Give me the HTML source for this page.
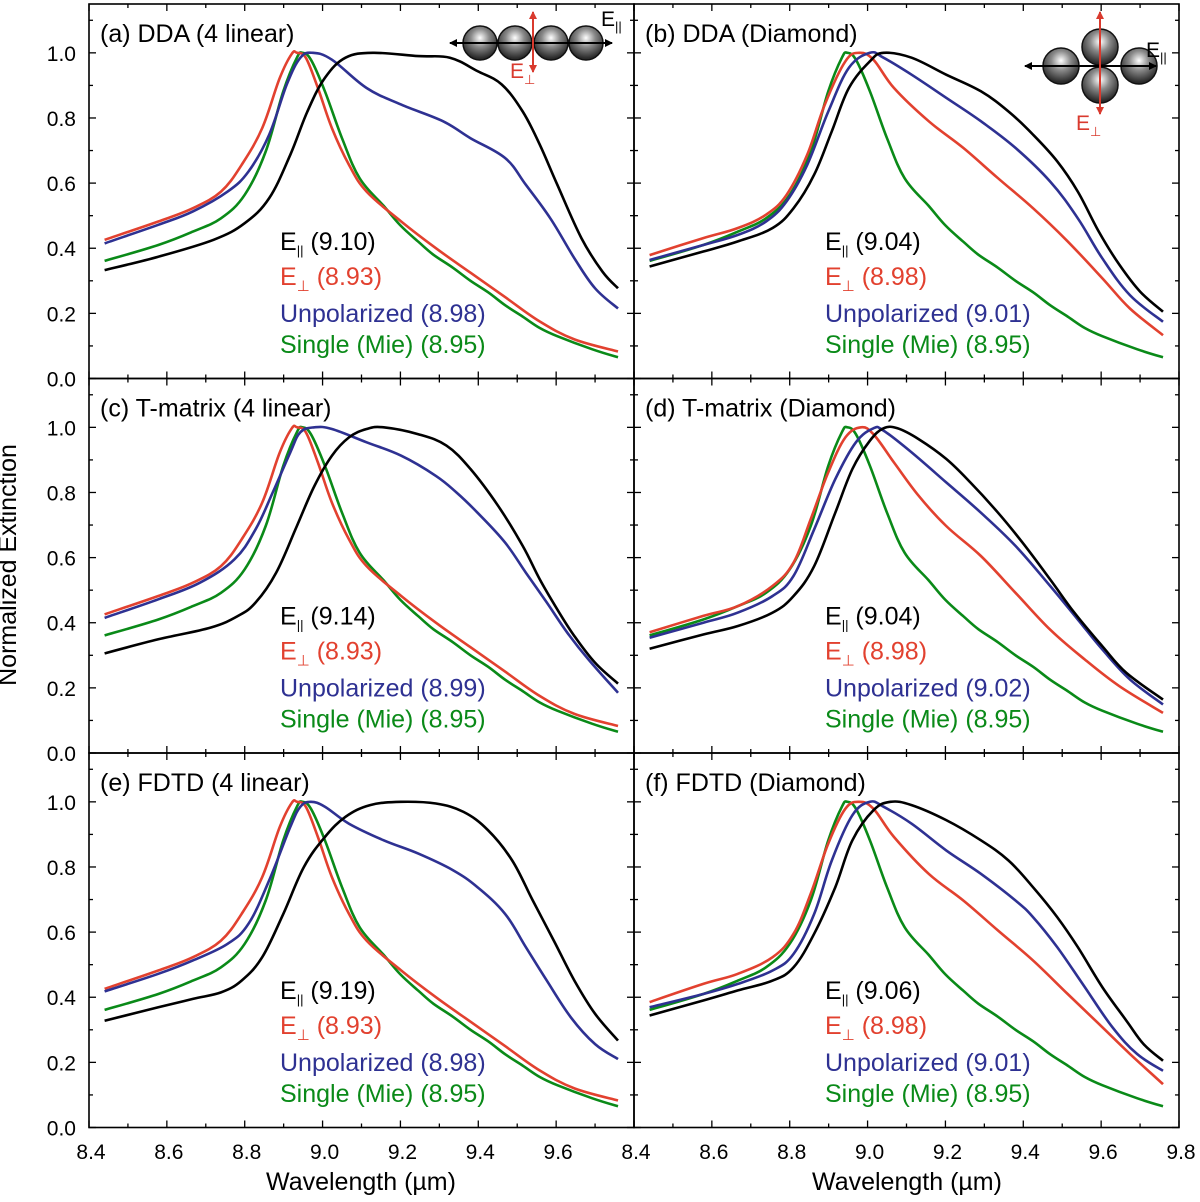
<!DOCTYPE html>
<html><head><meta charset="utf-8"><style>
body{margin:0;background:#fff}
svg text{font-family:"Liberation Sans",sans-serif}
</style></head><body>
<svg id="fig" width="1200" height="1197" viewBox="0 0 1200 1197" xmlns="http://www.w3.org/2000/svg">
<defs>
<radialGradient id="sph" cx="0.5" cy="0.35" r="0.6">
<stop offset="0" stop-color="#ffffff"/><stop offset="0.45" stop-color="#8a8a8a"/><stop offset="1" stop-color="#2a2a2a"/>
</radialGradient>
<marker id="ab" markerWidth="8" markerHeight="8" refX="7" refY="4" orient="auto" markerUnits="userSpaceOnUse"><path d="M0,0 L8,4 L0,8 z" fill="#000"/></marker>
<marker id="ar" markerWidth="8" markerHeight="8" refX="7" refY="4" orient="auto" markerUnits="userSpaceOnUse"><path d="M0,0 L8,4 L0,8 z" fill="#d93a2e"/></marker>
</defs>
<g id="plots"></g>
<text x="16" y="565" font-size="25" text-anchor="middle" transform="rotate(-90 16 565)">Normalized Extinction</text>
<text x="361" y="1190" font-size="25" text-anchor="middle">Wavelength (µm)</text>
<text x="907" y="1190" font-size="25" text-anchor="middle">Wavelength (µm)</text>
<g>
<circle cx="480" cy="43" r="17" fill="url(#sph)" stroke="#111" stroke-width="1.5"/>
<circle cx="515" cy="43" r="17" fill="url(#sph)" stroke="#111" stroke-width="1.5"/>
<circle cx="551" cy="43" r="17" fill="url(#sph)" stroke="#111" stroke-width="1.5"/>
<circle cx="586" cy="43" r="17" fill="url(#sph)" stroke="#111" stroke-width="1.5"/>
<line x1="452" y1="43" x2="612" y2="43" stroke="#000" stroke-width="2" marker-end="url(#ab)"/>
<line x1="612" y1="43" x2="450" y2="43" stroke="#000" stroke-width="2" marker-end="url(#ab)"/>
<line x1="533" y1="70" x2="533" y2="12" stroke="#d93a2e" stroke-width="2" marker-end="url(#ar)"/>
<line x1="533" y1="14" x2="533" y2="72" stroke="#d93a2e" stroke-width="2" marker-end="url(#ar)"/>
<text x="601" y="26" font-size="21">E<tspan font-size="13" dy="5">||</tspan></text>
<text x="510" y="78" font-size="21" fill="#d93a2e">E<tspan font-size="13" dy="6">⊥</tspan></text>
</g>
<g>
<circle cx="1061" cy="66" r="18" fill="url(#sph)" stroke="#111" stroke-width="1.5"/>
<circle cx="1139" cy="66" r="18" fill="url(#sph)" stroke="#111" stroke-width="1.5"/>
<circle cx="1100" cy="47" r="18" fill="url(#sph)" stroke="#111" stroke-width="1.5"/>
<circle cx="1100" cy="85" r="18" fill="url(#sph)" stroke="#111" stroke-width="1.5"/>
<line x1="1028" y1="66" x2="1156" y2="66" stroke="#000" stroke-width="2" marker-end="url(#ab)"/>
<line x1="1156" y1="66" x2="1025" y2="66" stroke="#000" stroke-width="2" marker-end="url(#ab)"/>
<line x1="1100" y1="112" x2="1100" y2="12" stroke="#d93a2e" stroke-width="2" marker-end="url(#ar)"/>
<line x1="1100" y1="14" x2="1100" y2="114" stroke="#d93a2e" stroke-width="2" marker-end="url(#ar)"/>
<text x="1146" y="57" font-size="21">E<tspan font-size="13" dy="5">||</tspan></text>
<text x="1076" y="130" font-size="21" fill="#d93a2e">E<tspan font-size="13" dy="6">⊥</tspan></text>
</g>
</svg>
<script>
const xTicks=[8.4,8.6,8.8,9.0,9.2,9.4,9.6,9.8];
const yTicks=[0.0,0.2,0.4,0.6,0.8,1.0];
const panelTitles=["(a) DDA (4 linear)","(b) DDA (Diamond)","(c) T-matrix (4 linear)","(d) T-matrix (Diamond)","(e) FDTD (4 linear)","(f) FDTD (Diamond)"];
const peakPar=["9.10","9.04","9.14","9.04","9.19","9.06"];
const peakPerp=["8.93","8.98","8.93","8.98","8.93","8.98"];
const peakUnp=["8.98","9.01","8.99","9.02","8.98","9.01"];
const peakMie="8.95";
// Mie single sphere (shared)
const mieW=[8.44,8.578,8.667,8.739,8.80,8.854,8.899,8.934,8.948,8.97,9.006,9.05,9.095,9.157,9.2,9.246,9.285,9.335,9.38,9.425,9.469,9.514,9.558,9.603,9.692,9.759];
const mieV=[0.361,0.41,0.451,0.492,0.564,0.697,0.882,0.985,1.0,0.979,0.882,0.738,0.615,0.53,0.47,0.42,0.38,0.34,0.30,0.265,0.225,0.19,0.155,0.13,0.09,0.065];
// Panel a
const aParW=[8.44,8.578,8.72,8.80,8.863,8.917,8.961,9.006,9.059,9.13,9.246,9.327,9.398,9.46,9.514,9.558,9.603,9.665,9.719,9.759];
const aParV=[0.333,0.374,0.426,0.477,0.554,0.687,0.82,0.923,0.985,1.0,0.99,0.985,0.944,0.903,0.82,0.718,0.595,0.431,0.328,0.277];
const aUnpW=[8.44,8.578,8.667,8.756,8.81,8.863,8.908,8.943,8.975,9.024,9.113,9.202,9.309,9.38,9.469,9.522,9.585,9.647,9.70,9.759];
const aUnpV=[0.415,0.472,0.513,0.574,0.636,0.749,0.903,0.985,1.0,0.979,0.892,0.841,0.79,0.738,0.677,0.595,0.492,0.369,0.277,0.215];
const linPerpW=[8.44,8.578,8.667,8.739,8.792,8.845,8.89,8.921,8.934,8.957,8.988,9.024,9.068,9.113,9.202,9.291,9.38,9.469,9.558,9.647,9.759];
const linPerpV=[0.426,0.482,0.523,0.574,0.656,0.769,0.923,0.997,1.0,0.985,0.892,0.769,0.656,0.574,0.482,0.40,0.325,0.25,0.175,0.12,0.083];
// Panel b
const bParW=[8.44,8.578,8.667,8.756,8.81,8.863,8.908,8.952,9.006,9.041,9.113,9.202,9.291,9.362,9.425,9.487,9.54,9.594,9.647,9.70,9.759];
const bParV=[0.344,0.39,0.421,0.462,0.523,0.626,0.759,0.892,0.974,1.0,0.985,0.933,0.882,0.82,0.749,0.667,0.574,0.451,0.349,0.267,0.205];
const bUnpW=[8.44,8.578,8.667,8.739,8.792,8.845,8.899,8.952,9.006,9.041,9.113,9.202,9.291,9.38,9.469,9.54,9.603,9.674,9.759];
const bUnpV=[0.364,0.41,0.441,0.482,0.544,0.656,0.82,0.954,1.0,0.985,0.933,0.862,0.79,0.708,0.605,0.492,0.369,0.256,0.174];
const bPerpW=[8.44,8.578,8.667,8.739,8.792,8.845,8.89,8.943,8.979,9.015,9.068,9.157,9.246,9.335,9.425,9.514,9.603,9.674,9.759];
const bPerpV=[0.379,0.431,0.462,0.503,0.564,0.687,0.841,0.974,1.0,0.979,0.892,0.79,0.708,0.615,0.523,0.421,0.308,0.215,0.133];
// Panel c
const cParW=[8.44,8.578,8.712,8.783,8.828,8.881,8.934,8.979,9.024,9.068,9.113,9.157,9.246,9.318,9.38,9.451,9.514,9.558,9.603,9.647,9.70,9.759];
const cParV=[0.306,0.349,0.385,0.421,0.462,0.554,0.697,0.82,0.913,0.969,0.995,1.0,0.979,0.944,0.872,0.759,0.636,0.533,0.441,0.359,0.277,0.213];
const cUnpW=[8.44,8.578,8.685,8.774,8.828,8.872,8.917,8.943,8.979,9.024,9.113,9.202,9.291,9.344,9.398,9.469,9.522,9.576,9.629,9.683,9.759];
const cUnpV=[0.415,0.472,0.523,0.595,0.687,0.80,0.923,0.985,1.0,0.995,0.954,0.913,0.851,0.80,0.738,0.646,0.554,0.462,0.369,0.287,0.185];
// Panel d
const dParW=[8.44,8.578,8.667,8.756,8.81,8.863,8.917,8.961,9.006,9.041,9.077,9.131,9.202,9.264,9.335,9.398,9.469,9.531,9.603,9.665,9.759];
const dParV=[0.32,0.364,0.39,0.431,0.482,0.574,0.738,0.872,0.959,0.997,0.997,0.964,0.903,0.831,0.738,0.646,0.533,0.431,0.328,0.246,0.164];
const dUnpW=[8.44,8.578,8.667,8.756,8.81,8.863,8.917,8.97,9.015,9.041,9.113,9.202,9.291,9.38,9.469,9.54,9.603,9.674,9.759];
const dUnpV=[0.354,0.40,0.431,0.482,0.544,0.687,0.841,0.954,0.997,0.99,0.923,0.831,0.738,0.636,0.513,0.41,0.318,0.226,0.149];
const dPerpW=[8.44,8.578,8.667,8.756,8.81,8.854,8.899,8.943,8.983,9.015,9.068,9.131,9.202,9.291,9.38,9.469,9.558,9.647,9.759];
const dPerpV=[0.371,0.421,0.451,0.513,0.585,0.718,0.862,0.969,1.0,0.979,0.892,0.79,0.697,0.605,0.492,0.379,0.287,0.205,0.123];
// Panel e
const eParW=[8.44,8.578,8.667,8.739,8.792,8.845,8.899,8.952,9.006,9.059,9.122,9.202,9.291,9.362,9.425,9.487,9.54,9.594,9.647,9.70,9.759];
const eParV=[0.328,0.369,0.395,0.415,0.451,0.523,0.656,0.80,0.892,0.954,0.99,1.0,0.995,0.969,0.913,0.82,0.697,0.574,0.451,0.349,0.267];
const eUnpW=[8.44,8.578,8.667,8.756,8.81,8.863,8.917,8.943,8.97,9.006,9.068,9.157,9.246,9.335,9.398,9.469,9.522,9.576,9.638,9.70,9.759];
const eUnpV=[0.418,0.472,0.513,0.564,0.626,0.759,0.923,0.985,1.0,0.985,0.933,0.882,0.841,0.79,0.738,0.656,0.554,0.451,0.338,0.256,0.21];
// Panel f
const fParW=[8.44,8.578,8.667,8.756,8.81,8.863,8.917,8.961,9.015,9.059,9.113,9.202,9.291,9.362,9.425,9.487,9.54,9.603,9.665,9.709,9.759];
const fParV=[0.344,0.39,0.421,0.451,0.492,0.595,0.738,0.882,0.974,1.0,0.99,0.944,0.882,0.82,0.738,0.646,0.554,0.431,0.328,0.256,0.205];
const fUnpW=[8.44,8.578,8.667,8.756,8.81,8.863,8.908,8.961,9.006,9.041,9.113,9.202,9.291,9.38,9.425,9.487,9.558,9.629,9.692,9.759];
const fUnpV=[0.369,0.41,0.441,0.482,0.533,0.656,0.82,0.959,1.0,0.985,0.933,0.851,0.779,0.697,0.646,0.554,0.431,0.308,0.226,0.174];
const fPerpW=[8.44,8.578,8.667,8.756,8.81,8.854,8.899,8.943,8.979,9.015,9.068,9.157,9.246,9.335,9.425,9.514,9.603,9.674,9.759];
const fPerpV=[0.385,0.441,0.472,0.523,0.595,0.718,0.872,0.979,1.0,0.979,0.892,0.779,0.697,0.605,0.513,0.41,0.308,0.226,0.133];

const panelPar=[[aParW,aParV],[bParW,bParV],[cParW,cParV],[dParW,dParV],[eParW,eParV],[fParW,fParV]];
const panelUnp=[[aUnpW,aUnpV],[bUnpW,bUnpV],[cUnpW,cUnpV],[dUnpW,dUnpV],[eUnpW,eUnpV],[fUnpW,fUnpV]];
const panelPerp=[[linPerpW,linPerpV],[bPerpW,bPerpV],[linPerpW,linPerpV],[dPerpW,dPerpV],[linPerpW,linPerpV],[fPerpW,fPerpV]];

const NS="http://www.w3.org/2000/svg";
const root=document.getElementById('plots');
const X0=[89,634], PW=545, Y0=[4,378.5,753], PH=374.5, YMAX=1.15;
const C={par:"#000000",perp:"#e2412f",unp:"#2e3192",mie:"#0a8a18"};
function mk(tag,attrs,parent){const e=document.createElementNS(NS,tag);for(const k in attrs)e.setAttribute(k,attrs[k]);(parent||root).appendChild(e);return e;}
function path(pts){let d="M"+pts[0][0].toFixed(1)+","+pts[0][1].toFixed(1);
 for(let i=0;i<pts.length-1;i++){const p0=pts[Math.max(0,i-1)],p1=pts[i],p2=pts[i+1],p3=pts[Math.min(pts.length-1,i+2)];const t=0.18;
 const c1=[p1[0]+(p2[0]-p0[0])*t,p1[1]+(p2[1]-p0[1])*t],c2=[p2[0]-(p3[0]-p1[0])*t,p2[1]-(p3[1]-p1[1])*t];
 d+=" C"+c1[0].toFixed(1)+","+c1[1].toFixed(1)+" "+c2[0].toFixed(1)+","+c2[1].toFixed(1)+" "+p2[0].toFixed(1)+","+p2[1].toFixed(1);}
 return d;}
for(let p=0;p<6;p++){
 const col=p%2,row=Math.floor(p/2);
 const x0=X0[col],y0=Y0[row];
 const xs=w=>x0+(w-8.4)/1.4*PW;
 const ys=v=>y0+PH-(v/YMAX)*PH;
 const g=mk('g',{});
 
 
 const fr=mk('rect',{x:x0,y:y0,width:PW,height:PH,fill:'none',stroke:'#000','stroke-width':1.6},g);
 
 
 for(let i=0;i<=14;i++){const w=8.4+i*0.1,x=xs(w),L=(i%2==0)?7:4;
  mk('line',{x1:x,y1:y0+PH,x2:x,y2:y0+PH-L,stroke:'#000','stroke-width':1.3},g);
  mk('line',{x1:x,y1:y0,x2:x,y2:y0+L,stroke:'#000','stroke-width':1.3},g);}
 for(let i=0;i<=11;i++){const v=i*0.1,y=ys(v),L=(i%2==0)?7:4;
  mk('line',{x1:x0,y1:y,x2:x0+L,y2:y,stroke:'#000','stroke-width':1.3},g);
  mk('line',{x1:x0+PW,y1:y,x2:x0+PW-L,y2:y,stroke:'#000','stroke-width':1.3},g);}
 if(col==0){yTicks.forEach(v=>{const t=mk('text',{x:76,y:ys(v)+8,'font-size':21,'text-anchor':'end'},g);t.textContent=v.toFixed(1);
  
  });}
 if(row==2){xTicks.forEach((w,i)=>{if(col==0&&i==xTicks.length-1)return;const t=mk('text',{x:xs(w)+2,y:1159,'font-size':21,'text-anchor':'middle'},g);t.textContent=w.toFixed(1);
  
  });}
 const tt=mk('text',{x:x0+11,y:y0+38,'font-size':25},g);tt.textContent=panelTitles[p];
 
 
 const series=[[mieW,mieV,C.mie,'mie-curve'],[panelPerp[p][0],panelPerp[p][1],C.perp,'e-perp-curve'],[panelUnp[p][0],panelUnp[p][1],C.unp,'unpolarized-curve'],[panelPar[p][0],panelPar[p][1],C.par,'e-par-curve']];
 series.forEach(s=>{const pts=s[0].map((w,i)=>[xs(w),ys(s[1][i])]);
  const el=mk('path',{d:path(pts),fill:'none',stroke:s[2],'stroke-width':2.6,'stroke-linejoin':'round'},g);
  
  });
 const lx=x0+191,ly=y0+246;
 const l1=mk('text',{x:lx,y:ly,'font-size':25,fill:C.par},g);
 l1.innerHTML='E<tspan font-size="13" dy="5">||</tspan><tspan dy="-5"> ('+peakPar[p]+')</tspan>';
 
 
 const l2=mk('text',{x:lx,y:ly+35,'font-size':25,fill:C.perp},g);
 l2.innerHTML='E<tspan font-size="15" dy="6">⊥</tspan><tspan dy="-6"> ('+peakPerp[p]+')</tspan>';
 
 
 const l3=mk('text',{x:lx,y:ly+72,'font-size':25,fill:C.unp},g);
 l3.textContent='Unpolarized ('+peakUnp[p]+')';
 
 
 const l4=mk('text',{x:lx,y:ly+103,'font-size':25,fill:C.mie},g);
 l4.textContent='Single (Mie) ('+peakMie+')';
 
 
}
</script>
</body></html>
